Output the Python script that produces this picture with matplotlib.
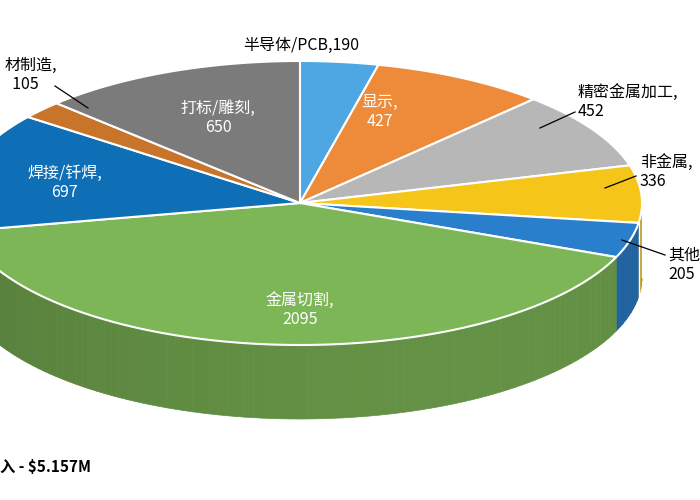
import numpy as np
import matplotlib.pyplot as plt
from matplotlib.patches import Polygon
import matplotlib.colors as mcolors

plt.rcParams['font.family'] = ['Noto Sans CJK SC', 'DejaVu Sans']

# clockwise from 12 o'clock
labels = ['半导体/PCB', '显示', '精密金属加工', '非金属', '其他', '金属切割', '焊接/钎焊', '增材制造', '打标/雕刻']
values = [190, 427, 452, 336, 205, 2095, 697, 105, 650]
colors = ['#4ea6e2', '#ee8b3a', '#b7b7b7', '#f6c51a', '#2a7fcc', '#7db656', '#0f6fb6', '#c8742b', '#7b7b7b']

cx, cy, rx, ry, depth = 300, 203, 342, 142, 74

fig = plt.figure(figsize=(7, 5), dpi=100)
ax = fig.add_axes([0, 0, 1, 1])
ax.set_xlim(0, 700)
ax.set_ylim(500, 0)
ax.axis('off')


def pt(t, dy=0):
    r = np.radians(t)
    return cx + rx * np.cos(r), cy - ry * np.sin(r) + dy


total = sum(values)
cum = np.cumsum([0] + values) / total
angles = 90 - 360 * cum

# side wall, front half only
for i, c in enumerate(colors):
    a0, a1 = angles[i], angles[i + 1]
    lo, hi = max(a1, -180), min(a0, 0)
    if lo >= hi:
        continue
    ts = np.linspace(hi, lo, max(2, int((hi - lo) / 1.5) + 1))
    base = np.array(mcolors.to_rgb(c))
    for ta, tb in zip(ts[:-1], ts[1:]):
        shade = 0.62 + 0.18 * (1 + np.cos(np.radians((ta + tb) / 2 + 60))) / 2
        pts = [pt(ta), pt(tb), pt(tb, depth), pt(ta, depth)]
        ax.add_patch(Polygon(pts, closed=True, fc=base * shade, ec=base * shade, lw=0.5, zorder=1))
    if i != 5:
        ax.plot(*zip(pt(hi), pt(hi, depth)), color='white', lw=1, zorder=2)

# top face
for i, c in enumerate(colors):
    a0, a1 = angles[i], angles[i + 1]
    ts = np.linspace(a0, a1, 200)
    pts = [(cx, cy)] + [pt(t) for t in ts]
    ax.add_patch(Polygon(pts, closed=True, fc=c, ec='white', lw=1.5, zorder=3))

fs = 11.5
# inside labels
ax.text(380, 112, '显示,\n427', color='white', ha='center', va='center', fontsize=fs, zorder=5)
ax.text(218, 118, '打标/雕刻,\n650', color='white', ha='center', va='center', fontsize=fs, zorder=5)
ax.text(65, 183, '焊接/钎焊,\n697', color='white', ha='center', va='center', fontsize=fs, zorder=5)
ax.text(300, 310, '金属切割,\n2095', color='white', ha='center', va='center', fontsize=fs, zorder=5)

# outside labels
ax.text(243, 45, '半导体/PCB,190', ha='left', va='center', fontsize=fs, zorder=5)
ax.text(578, 102, '精密金属加工,\n452', ha='left', va='center', fontsize=fs, zorder=5)
ax.text(640, 172, '非金属,\n336', ha='left', va='center', fontsize=fs, zorder=5)
ax.text(668, 265, '其他,\n205', ha='left', va='center', fontsize=fs, zorder=5)
ax.text(5, 75, '材制造,\n  105', ha='left', va='center', fontsize=fs, zorder=5)

for (x0, y0), (x1, y1) in [((540, 128), (575, 112)), ((605, 188), (636, 176)),
                           ((622, 240), (665, 255)), ((88, 108), (55, 86))]:
    ax.plot([x0, x1], [y0, y1], color='black', lw=0.9, zorder=6)

ax.text(0, 467, '入 - $5.157M', ha='left', va='center', fontsize=11, fontweight='bold', zorder=5)

fig.savefig('out.png', dpi=100)
